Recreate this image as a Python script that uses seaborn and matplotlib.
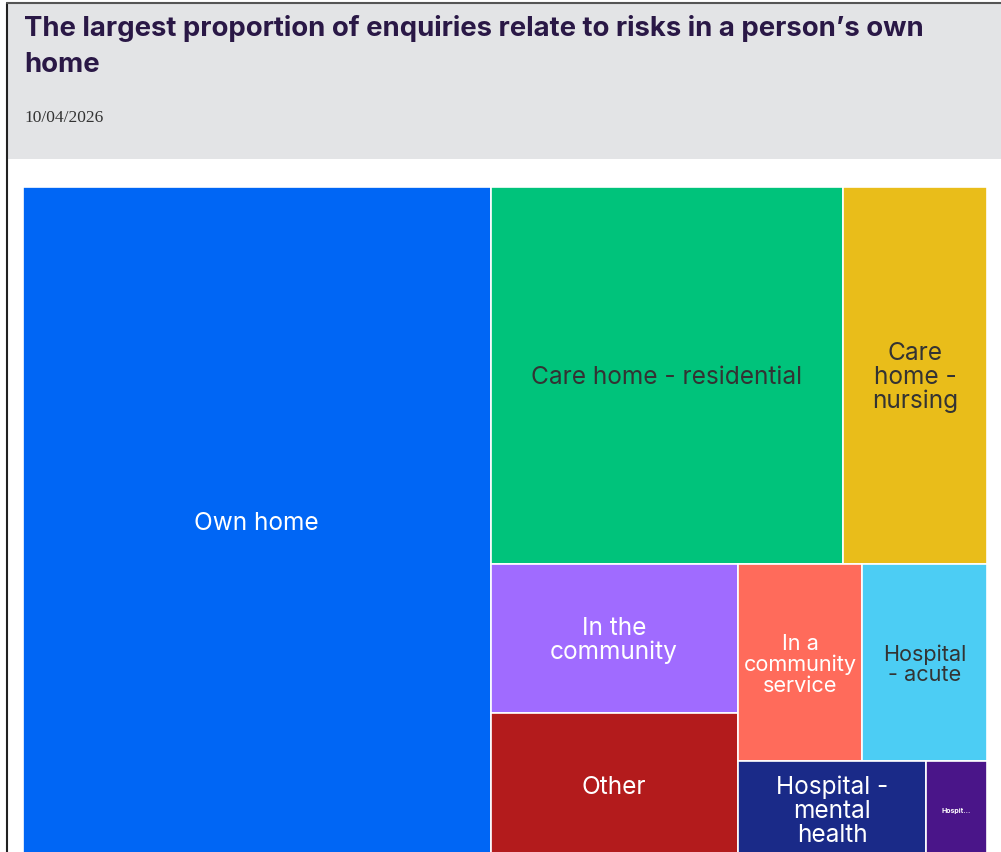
import matplotlib
matplotlib.use("Agg")
import matplotlib.pyplot as plt
from matplotlib.patches import Rectangle
import seaborn as sns

# ---- data ----
categories = ["Own home", "Care home - residential", "Care home - nursing",
              "In the community", "Other", "In a community service",
              "Hospital - acute", "Hospital - mental health", "Hospital - community"]
values = [48.5, 20.6, 8.4, 5.7, 5.5, 3.8, 3.8, 2.8, 0.9]
display_labels = ["Own home", "Care home - residential", "Care\nhome -\nnursing",
                  "In the\ncommunity", "Other", "In a\ncommunity\nservice",
                  "Hospital\n- acute", "Hospital -\nmental\nhealth", "Hospit..."]
colors = ["#0066F5", "#00C37B", "#E9BD1A", "#A06BFF", "#B31B1C", "#FF6B5B",
          "#4CCDF4", "#1A2A88", "#4A1589"]
text_colors = ["white", "#333333", "#333333", "white", "white", "white",
               "#333333", "white", "white"]
font_sizes = [17.6, 17.6, 17.6, 17.6, 17.6, 15.6, 15.6, 17.6, 5]
title = "The largest proportion of enquiries relate to risks in a person\u2019s own\nhome"
date_text = "10/04/2026"

# split structure of the treemap (h = side by side, v = stacked)
tree = ("h", [0, ("v", [("h", [1, 2]),
                        ("h", [("v", [3, 4]),
                               ("v", [("h", [5, 6]), ("h", [7, 8])])])])])

sns.set_theme(style="white")
plt.rcParams["font.family"] = ["Inter", "DejaVu Sans"]

W, H = 1001, 852
fig = plt.figure(figsize=(W / 100, H / 100), dpi=100)
ax = fig.add_axes([0, 0, 1, 1])
ax.set_xlim(0, W)
ax.set_ylim(H, 0)
ax.axis("off")

# header
ax.add_patch(Rectangle((8, 4), W - 8, 155, facecolor="#E3E4E6", edgecolor="none"))
ax.plot([7, 7], [3, H], color="#222222", lw=1.5)
ax.plot([7, W], [3, 3], color="#555555", lw=1.5)
ax.text(24, 46, title, fontsize=19.8, fontweight="bold", color="#2A1846",
        va="center", ha="left", linespacing=1.5)
ax.text(24, 118, date_text, fontsize=12.5, color="#333333",
        family=["Liberation Serif", "DejaVu Serif"], va="center", ha="left")


def total(node):
    if isinstance(node, int):
        return values[node]
    return sum(total(c) for c in node[1])


def layout(node, x, y, w, h, out):
    if isinstance(node, int):
        out[node] = (x, y, w, h)
        return
    kind, children = node
    t = total(node)
    pos = 0.0
    for c in children:
        frac = total(c) / t
        if kind == "h":
            layout(c, x + pos, y, w * frac, h, out)
            pos += w * frac
        else:
            layout(c, x, y + pos, w, h * frac, out)
            pos += h * frac


rects = {}
layout(tree, 23, 187, 964, 670, rects)

for i in range(len(values)):
    x, y, w, h = rects[i]
    ax.add_patch(Rectangle((x, y), w, h, facecolor=colors[i], edgecolor="white", lw=1.2))
    ax.text(x + w / 2, y + h / 2 + 2, display_labels[i], ha="center", va="center",
            color=text_colors[i], fontsize=font_sizes[i], linespacing=1.05,
            fontweight="bold" if i == 8 else "normal")

fig.savefig("out.png", dpi=100)
